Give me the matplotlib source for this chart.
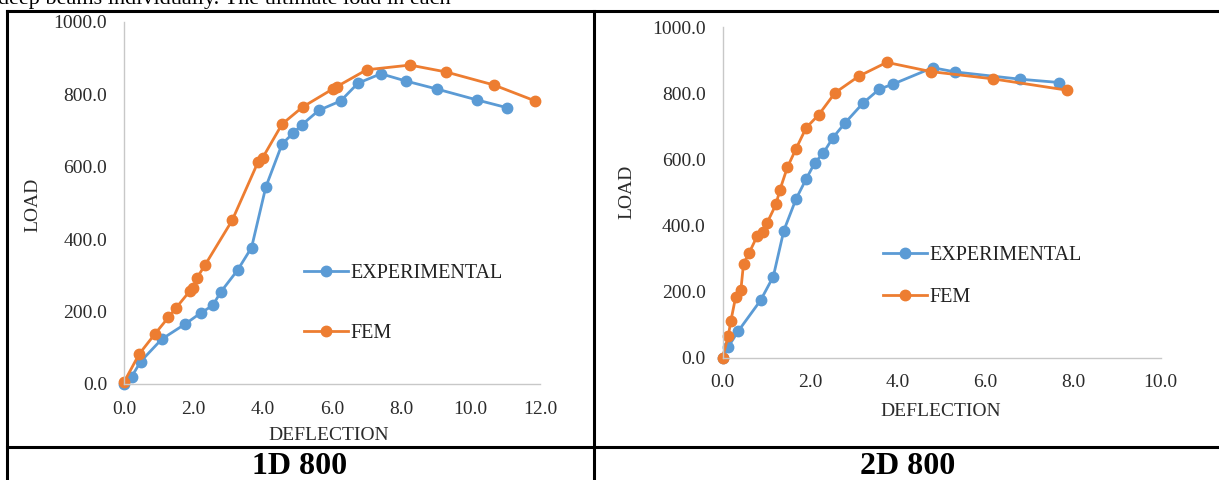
"""
Curvas carga x deflexão (1D 800 e 2D 800): experimental vs FEM.
"""
import matplotlib
matplotlib.use("Agg")
import matplotlib.pyplot as plt
from matplotlib.lines import Line2D

plt.rcParams["font.family"] = ["Liberation Serif", "DejaVu Serif"]

W, H = 1219, 480

BLUE = "#5B9BD5"
ORANGE = "#ED7D31"
AXIS_GREY = "#c8c8c8"
TEXT_GREY = "#2b2b2b"

# 1D 800
d1_exp_x = [0.0, 0.22, 0.48, 1.09, 1.77, 2.21, 2.56, 2.79, 3.28, 3.68, 4.09,
            4.56, 4.87, 5.13, 5.62, 6.25, 6.75, 7.41, 8.13, 9.02, 10.17, 11.06]
d1_exp_y = [0, 20, 62, 124, 166, 196, 217, 254, 315, 377, 544,
            663, 692, 716, 756, 782, 831, 857, 837, 815, 785, 763]
d1_fem_x = [0.0, 0.44, 0.89, 1.28, 1.50, 1.90, 1.98, 2.11, 2.34, 3.12, 3.87,
            4.00, 4.56, 5.15, 6.04, 6.13, 7.00, 8.25, 9.29, 10.67, 11.86]
d1_fem_y = [5, 83, 138, 184, 210, 257, 264, 294, 329, 452, 614,
            625, 718, 765, 816, 821, 868, 881, 862, 826, 782]

# 2D 800
d2_exp_x = [0.0, 0.13, 0.36, 0.87, 1.16, 1.40, 1.68, 1.91, 2.11, 2.30, 2.52,
            2.80, 3.21, 3.58, 3.89, 4.80, 5.31, 6.80, 7.69]
d2_exp_y = [0, 32, 80, 173, 245, 384, 480, 540, 590, 618, 665,
            710, 770, 812, 827, 877, 864, 842, 832]
d2_fem_x = [0.0, 0.13, 0.19, 0.30, 0.42, 0.48, 0.61, 0.79, 0.92, 1.02, 1.22,
            1.31, 1.48, 1.68, 1.91, 2.20, 2.57, 3.11, 3.75, 4.76, 6.18, 7.86]
d2_fem_y = [0, 64, 110, 183, 205, 284, 317, 367, 379, 408, 463,
            507, 575, 632, 695, 735, 801, 851, 893, 865, 843, 809]

Y_TICKS = [0, 200, 400, 600, 800, 1000]
D1_X_TICKS = [0, 2, 4, 6, 8, 10, 12]
D2_X_TICKS = [0, 2, 4, 6, 8, 10]


def fx(px):
    return px / W


def fy(py):
    return 1 - py / H


def make_axes(fig, x0, x1, y0, y1):
    # x0/x1/y0/y1 em pixels da imagem (y cresce para baixo)
    return fig.add_axes([fx(x0), fy(y0), fx(x1) - fx(x0), fy(y1) - fy(y0)])


def draw_chart(ax, exp_x, exp_y, fem_x, fem_y, xticks, xmax):
    style = dict(lw=2.0, marker="o", ms=7.5, clip_on=False)
    ax.plot(exp_x, exp_y, color=BLUE, label="EXPERIMENTAL", **style)
    ax.plot(fem_x, fem_y, color=ORANGE, label="FEM", **style)
    ax.set_xlim(0, xmax)
    ax.set_ylim(0, 1000)
    ax.set_xticks(xticks)
    ax.set_xticklabels([f"{t:.1f}" for t in xticks])
    ax.set_yticks(Y_TICKS)
    ax.set_yticklabels([f"{t:.1f}" for t in Y_TICKS])
    for side in ("top", "right"):
        ax.spines[side].set_visible(False)
    for side in ("left", "bottom"):
        ax.spines[side].set_color(AXIS_GREY)
        ax.spines[side].set_linewidth(1.0)
    ax.tick_params(length=0, labelsize=14, colors=TEXT_GREY)
    ax.tick_params(axis="y", pad=12)
    ax.tick_params(axis="x", pad=12)
    ax.set_facecolor("none")


fig = plt.figure(figsize=(W / 100, H / 100), dpi=100)

ax1 = make_axes(fig, 124, 540, 384, 22)
draw_chart(ax1, d1_exp_x, d1_exp_y, d1_fem_x, d1_fem_y, D1_X_TICKS, 12)
ax2 = make_axes(fig, 722.5, 1160.5, 357.5, 27)
draw_chart(ax2, d2_exp_x, d2_exp_y, d2_fem_x, d2_fem_y, D2_X_TICKS, 10)

# legendas
leg = dict(loc="upper left", bbox_transform=fig.transFigure, frameon=False,
           fontsize=14.5, handlelength=2.2, handletextpad=0.1, labelcolor="#222222")
ax1.legend(bbox_to_anchor=(fx(286), fy(246)), labelspacing=2.0, **leg)
ax2.legend(bbox_to_anchor=(fx(865), fy(228)), labelspacing=1.15, **leg)

# rótulos dos eixos
lab = dict(fontsize=14, color=TEXT_GREY, ha="center", va="center")
fig.text(fx(33), fy(205), "LOAD", rotation=90, **lab)
fig.text(fx(329), fy(435), "DEFLECTION", **lab)
fig.text(fx(627), fy(192), "LOAD", rotation=90, **lab)
fig.text(fx(941), fy(411), "DEFLECTION", **lab)

# texto do documento cortado no topo
fig.text(fx(-2), fy(4), "deep beams individually. The ultimate load in each",
         fontsize=16, color="black", ha="left", va="baseline")

# linhas da tabela
tbl = dict(color="black", lw=2.2, transform=fig.transFigure)
fig.add_artist(Line2D([fx(7), 1], [fy(11), fy(11)], **tbl))
fig.add_artist(Line2D([fx(7), 1], [fy(447), fy(447)], **tbl))
fig.add_artist(Line2D([fx(7), fx(7)], [fy(11), 0], **tbl))
fig.add_artist(Line2D([fx(594), fx(594)], [fy(11), 0], **tbl))

title = dict(fontsize=23, fontweight="bold", ha="center", va="center")
fig.text(fx(300), fy(466), "1D 800", **title)
fig.text(fx(908), fy(466), "2D 800", **title)

fig.savefig("out.png", dpi=100)
